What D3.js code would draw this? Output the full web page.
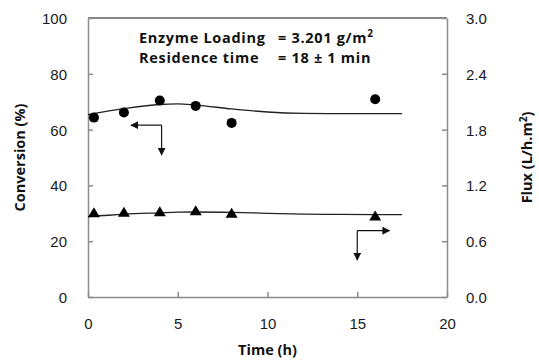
<!DOCTYPE html>
<meta charset="utf-8">
<style>
body { margin: 0; background: #fff; }
svg { font-family: Lato, "Open Sans", sans-serif; }
.tick text { font-size: 15px; fill: #1a1a1a; }
.axis path, .axis line { stroke: #8c8c8c; stroke-width: 1.5; }
.fit { fill: none; stroke: #222; stroke-width: 1.3; }
.note { font-family: "Open Sans", sans-serif; font-size: 14.5px; letter-spacing: 0.7px; font-weight: bold; fill: #111; }
.label { font-family: "Open Sans", sans-serif; font-size: 14.5px; font-weight: bold; fill: #111; }
</style>
<body></body>
<script src="https://cdnjs.cloudflare.com/ajax/libs/d3/7.8.5/d3.min.js"></script>
<script>
// measured points
var time = [0.33, 2, 4, 6, 8, 16];
var conversion = [64.3, 66.1, 70.4, 68.5, 62.4, 70.9];
var flux = [0.906, 0.91, 0.917, 0.928, 0.9, 0.87];

// fitted trend lines
var fitTime = [0, 2, 4, 5, 6, 8, 10, 12, 14, 17.5];
var fitConv = [65.4, 67.5, 69.0, 69.2, 68.8, 67.4, 66.3, 65.8, 65.7, 65.7];
var fitFlux = [0.865, 0.89, 0.905, 0.912, 0.914, 0.91, 0.9, 0.892, 0.888, 0.885];

var xTicks = [0, 5, 10, 15, 20];
var convTicks = [0, 20, 40, 60, 80, 100];
var fluxTicks = [0, 0.6, 1.2, 1.8, 2.4, 3.0];

var margin = {top: 18, right: 92, bottom: 63, left: 88},
    width = 539 - margin.left - margin.right,
    height = 360 - margin.top - margin.bottom;

var x = d3.scaleLinear().domain([0, 20]).range([0, width]);
var yL = d3.scaleLinear().domain([0, 100]).range([height, 0]);
var yR = d3.scaleLinear().domain([0, 3]).range([height, 0]);

var svg = d3.select("body").append("svg")
    .attr("width", 539)
    .attr("height", 360)
  .append("g")
    .attr("transform", "translate(" + margin.left + "," + margin.top + ")");

var defs = svg.append("defs");
defs.append("marker")
    .attr("id", "head")
    .attr("viewBox", "0 0 10 10")
    .attr("refX", 9).attr("refY", 5)
    .attr("markerWidth", 8).attr("markerHeight", 8)
    .attr("markerUnits", "userSpaceOnUse")
    .attr("orient", "auto")
  .append("path")
    .attr("d", "M0,0 L10,5 L0,10 z")
    .attr("fill", "#111");

// top border
svg.append("line")
    .attr("x1", 0).attr("x2", width)
    .attr("y1", 0).attr("y2", 0)
    .attr("stroke", "#111").attr("stroke-width", 1.2);

svg.append("g")
    .attr("class", "axis")
    .attr("transform", "translate(0," + height + ")")
    .call(d3.axisBottom(x).tickValues(xTicks).tickSizeInner(-5).tickSizeOuter(0).tickPadding(21));

svg.append("g")
    .attr("class", "axis")
    .call(d3.axisLeft(yL).tickValues(convTicks).tickSizeInner(-5).tickSizeOuter(0).tickPadding(21));

svg.append("g")
    .attr("class", "axis")
    .attr("transform", "translate(" + width + ",0)")
    .call(d3.axisRight(yR).tickValues(fluxTicks).tickFormat(d3.format(".1f")).tickSizeInner(-5).tickSizeOuter(0).tickPadding(19));

svg.selectAll(".tick text").attr("dy", "0.36em");
svg.selectAll(".axis").filter((d, i) => i === 0).selectAll(".tick text").attr("dy", "0.71em");

// fitted lines
var convLine = d3.line()
    .x((d, i) => x(fitTime[i]))
    .y(d => yL(d))
    .curve(d3.curveMonotoneX);
var fluxLine = d3.line()
    .x((d, i) => x(fitTime[i]))
    .y(d => yR(d))
    .curve(d3.curveMonotoneX);

svg.append("path").datum(fitConv).attr("class", "fit").attr("d", convLine);
svg.append("path").datum(fitFlux).attr("class", "fit").attr("d", fluxLine);

// points
svg.selectAll(".dot")
    .data(conversion)
  .enter().append("circle")
    .attr("class", "dot")
    .attr("cx", (d, i) => x(time[i]))
    .attr("cy", d => yL(d))
    .attr("r", 5)
    .attr("fill", "#000");

svg.selectAll(".tri")
    .data(flux)
  .enter().append("path")
    .attr("class", "tri")
    .attr("transform", (d, i) => "translate(" + x(time[i]) + "," + yR(d) + ")")
    .attr("d", "M0,-5.5 L6,4.5 L-6,4.5 Z")
    .attr("fill", "#000");

// arrows pointing to the axis each series uses
function elbow(cx, cy, hx, vy, yScale) {
  svg.append("line")
    .attr("x1", x(cx)).attr("y1", yScale(cy))
    .attr("x2", x(hx)).attr("y2", yScale(cy))
    .attr("stroke", "#111").attr("stroke-width", 1.2)
    .attr("marker-end", "url(#head)");
  svg.append("line")
    .attr("x1", x(cx)).attr("y1", yScale(cy))
    .attr("x2", x(cx)).attr("y2", yScale(vy))
    .attr("stroke", "#111").attr("stroke-width", 1.2)
    .attr("marker-end", "url(#head)");
}
elbow(4.1, 61.6, 2.4, 50.9, yL);
elbow(15, 0.713, 16.8, 0.398, yR);

// notes
svg.append("text").attr("class", "note").attr("x", 51).attr("y", 25).text("Enzyme Loading");
svg.append("text").attr("class", "note").attr("x", 190).attr("y", 25)
    .html("= 3.201 g/m<tspan dy='-6' font-size='10'>2</tspan>");
svg.append("text").attr("class", "note").attr("x", 51).attr("y", 45).text("Residence time");
svg.append("text").attr("class", "note").attr("x", 190).attr("y", 45).text("= 18 \u00b1 1 min");

// axis titles
svg.append("text").attr("class", "label")
    .attr("text-anchor", "middle")
    .attr("x", width / 2).attr("y", height + 58)
    .text("Time (h)");

svg.append("text").attr("class", "label")
    .attr("text-anchor", "middle")
    .attr("transform", "translate(-63," + (height / 2) + ") rotate(-90)")
    .text("Conversion (%)");

svg.append("text").attr("class", "label")
    .attr("text-anchor", "middle")
    .attr("transform", "translate(" + (width + 85) + "," + (height / 2) + ") rotate(-90)")
    .html("Flux (L/h.m<tspan dy='-5' font-size='10'>2</tspan><tspan dy='5'>)</tspan>");
</script>
